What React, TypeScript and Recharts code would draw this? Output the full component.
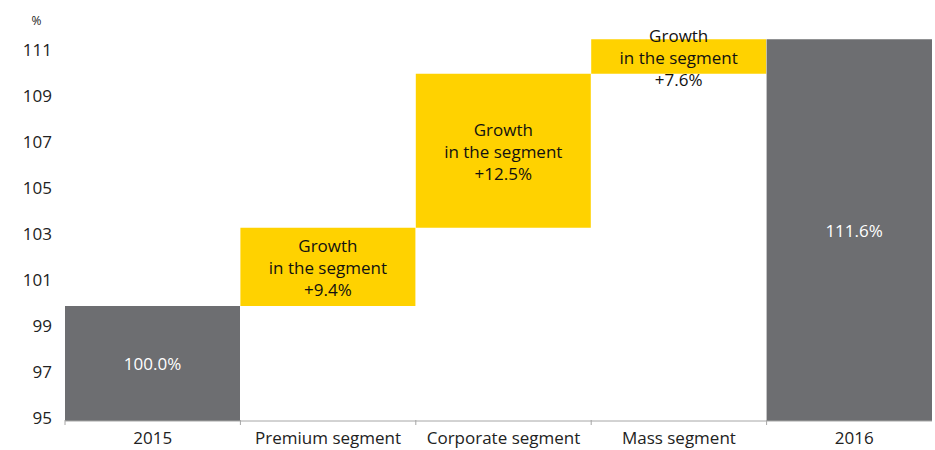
import React from "react";
import { BarChart, Bar, XAxis, YAxis, Cell, LabelList, Label } from "recharts";

const categories = ["2015", "Premium segment", "Corporate segment", "Mass segment", "2016"];
const barLow = [95, 100, 103.4, 110.1, 95];
const barHigh = [100, 103.4, 110.1, 111.6, 111.6];
const isTotal = [true, false, false, false, true];
const segmentGrowth = [null, 9.4, 12.5, 7.6, null];
const yTicks = [95, 97, 99, 101, 103, 105, 107, 109, 111];

const GRAY = "#6d6e71";
const YELLOW = "#ffd200";
const FONT = "'Open Sans', sans-serif";

const data = categories.map((name, i) => ({
  name,
  range: [barLow[i], barHigh[i]],
}));

function CategoryTick(props: any) {
  const { x, y, payload } = props;
  const half = payload?.offset ?? 87;
  return (
    <g>
      <line x1={x - half} x2={x - half} y1={y - 12} y2={y - 7} stroke="#a6a6a6" />
      <text x={x} y={y} dy="0.71em" textAnchor="middle" fill="#222" fontSize={17} fontFamily={FONT}>
        {payload.value}
      </text>
    </g>
  );
}

function ValueTick(props: any) {
  const { x, y, payload } = props;
  return (
    <text x={x} y={y - 4} textAnchor="end" dominantBaseline="central" fill="#222" fontSize={17} fontFamily={FONT}>
      {payload.value}
    </text>
  );
}

function BarLabel(props: any) {
  const { x, y, width, height, index } = props;
  const cx = x + width / 2;
  const cy = y + height / 2;
  if (isTotal[index]) {
    return (
      <text x={cx} y={cy} textAnchor="middle" dominantBaseline="central" fill="#fff" fontSize={17} fontFamily={FONT}>
        {barHigh[index].toFixed(1)}%
      </text>
    );
  }
  const lines = ["Growth", "in the segment", `+${segmentGrowth[index]}%`];
  return (
    <text textAnchor="middle" fill="#111" fontSize={17} fontFamily={FONT}>
      {lines.map((l, i) => (
        <tspan key={i} x={cx} y={cy + (i - 1) * 22 + 1} dominantBaseline="central">
          {l}
        </tspan>
      ))}
    </text>
  );
}

export default function App() {
  return (
    <div style={{ position: "absolute", left: 8, top: 8, width: 924, height: 440, overflow: "hidden" }}>
      <BarChart
        width={940}
        height={440}
        data={data}
        margin={{ top: 22, right: 6, left: 0, bottom: 0 }}
        barCategoryGap={0}
      >
        <XAxis
          dataKey="name"
          interval={0}
          tickLine={false}
          tickMargin={5}
          height={27}
          axisLine={{ stroke: "#a6a6a6" }}
          tick={<CategoryTick />}
        />
        <YAxis
          type="number"
          domain={[95, 112]}
          ticks={yTicks}
          width={57}
          axisLine={false}
          tickLine={false}
          tickSize={0}
          tickMargin={13}
          tick={<ValueTick />}
        >
          <Label
            value="%"
            position="top"
            offset={5}
            style={{ fill: "#222", fontSize: 12, fontFamily: FONT }}
          />
        </YAxis>
        <Bar dataKey="range" isAnimationActive={false}>
          {data.map((_, i) => (
            <Cell key={i} fill={isTotal[i] ? GRAY : YELLOW} />
          ))}
          <LabelList content={<BarLabel />} />
        </Bar>
      </BarChart>
    </div>
  );
}
